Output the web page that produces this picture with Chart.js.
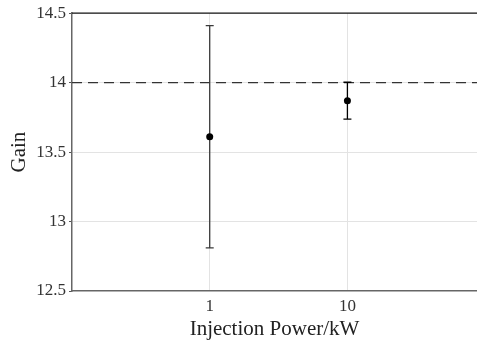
<!DOCTYPE html>
<html><head><meta charset="utf-8">
<script src="https://cdn.jsdelivr.net/npm/chart.js@4/dist/chart.umd.min.js"></script>
<style>html,body{margin:0;padding:0;background:#fff}#wrap{width:477px;height:342px}</style>
</head><body><div id="wrap"><canvas id="c"></canvas></div>
<script>
const powers = [1, 10];
const gain = [13.61, 13.87];
const gainErr = [0.80, 0.133];
const refGain = 14;
const xTicks = [1, 10];
const yTicks = [12.5, 13, 13.5, 14, 14.5];
const xMin = 0.1, xMax = 87.3;

const FONT = "'Liberation Serif', 'DejaVu Serif', serif";

const errorBars = {
  id: 'errorBars',
  afterDatasetsDraw(chart) {
    const {ctx, scales: {x, y}} = chart;
    ctx.save();
    powers.forEach((p, i) => {
      const px = x.getPixelForValue(p);
      const top = y.getPixelForValue(gain[i] + gainErr[i]);
      const bot = y.getPixelForValue(gain[i] - gainErr[i]);
      ctx.strokeStyle = i === 0 ? '#3a3a3a' : '#000';
      ctx.lineWidth = 1.3;
      ctx.beginPath();
      ctx.moveTo(px, top); ctx.lineTo(px, bot);
      ctx.moveTo(px - 4, top); ctx.lineTo(px + 4, top);
      ctx.moveTo(px - 4, bot); ctx.lineTo(px + 4, bot);
      ctx.stroke();
      ctx.fillStyle = '#000';
      ctx.beginPath();
      ctx.arc(px, y.getPixelForValue(gain[i]), 3.5, 0, Math.PI * 2);
      ctx.fill();
    });
    const a = chart.chartArea;
    ctx.strokeStyle = '#111';
    ctx.lineWidth = 1.3;
    ctx.beginPath();
    ctx.moveTo(a.left, a.top); ctx.lineTo(a.right, a.top);
    ctx.stroke();
    ctx.restore();
  }
};

new Chart(document.getElementById('c'), {
  type: 'scatter',
  data: {
    datasets: [{
      type: 'line',
      data: [{x: xMin, y: refGain}, {x: xMax, y: refGain}],
      borderColor: '#333',
      borderWidth: 1.3,
      borderDash: [10, 6],
      pointRadius: 0,
      fill: false
    }]
  },
  options: {
    responsive: true,
    maintainAspectRatio: false,
    animation: false,
    layout: {padding: {left: 0, right: 0, top: 13, bottom: 0}},
    plugins: {legend: {display: false}, tooltip: {enabled: false}},
    scales: {
      x: {
        type: 'logarithmic',
        min: xMin, max: xMax,
        afterBuildTicks(s) { s.ticks = xTicks.map(v => ({value: v})); },
        afterFit(s) { s.height = 51; },
        ticks: {
          callback: v => String(v),
          color: '#333',
          font: {family: FONT, size: 17},
          padding: 5,
          maxRotation: 0
        },
        grid: {color: '#e3e3e3', lineWidth: 1, drawTicks: false},
        border: {display: true, color: '#666', width: 1.5},
        title: {display: true, text: 'Injection Power/kW', color: '#222',
                font: {family: FONT, size: 21}, padding: {top: 0, bottom: 0}}
      },
      y: {
        min: 12.5, max: 14.5,
        afterBuildTicks(s) { s.ticks = yTicks.map(v => ({value: v})); },
        afterFit(s) { s.width = 72; },
        ticks: {
          callback: v => String(v),
          color: '#333',
          font: {family: FONT, size: 17},
          padding: 3
        },
        grid: {
          color: ctx => (ctx.tick && (ctx.tick.value === 12.5 || ctx.tick.value === 14.5)) ? 'rgba(0,0,0,0)' : '#e3e3e3',
          tickColor: '#555', tickLength: 3, lineWidth: 1
        },
        border: {display: true, color: '#666', width: 1.5},
        title: {display: true, text: 'Gain', color: '#222',
                font: {family: FONT, size: 21}, padding: {top: 7, bottom: 4}}
      }
    }
  },
  plugins: [errorBars]
});
</script></body></html>
